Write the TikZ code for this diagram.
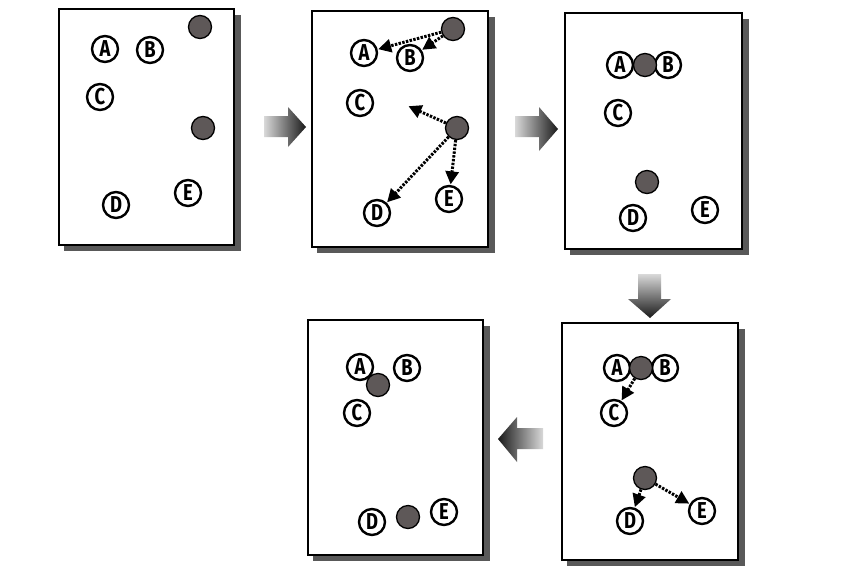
\documentclass[tikz,border=0pt]{standalone}
\usepackage{fontspec}
\setmainfont{Fira Sans}[FakeStretch=0.8]
\usetikzlibrary{arrows.meta}
\definecolor{dotfill}{HTML}{5E5858}
\newcommand{\lblfont}{\fontsize{23pt}{23pt}\selectfont\bfseries}
\tikzset{
  panel/.style={draw=black, line width=1.6pt, fill=white},
  pshadow/.style={fill=black!65, draw=none},
  lbl/.style={circle, draw=black, line width=2.4pt, fill=white, minimum size=26pt, inner sep=0pt,
              font=\lblfont},
  dot/.style={circle, draw=black, line width=1.3pt, fill=dotfill, minimum size=23pt, inner sep=0pt},
  darr/.style={line width=3pt, dash pattern=on 2.4pt off 1.4pt, shorten >=0.5pt,
               -{Triangle[length=13pt,width=13pt]}}
}
\begin{document}
\begin{tikzpicture}[x=1pt,y=-1pt]
\useasboundingbox (0,0) rectangle (853,576);
\fill[white] (0,0) rectangle (853,576);

% ---------- panel 1 ----------
\fill[pshadow] (64,15) rectangle (241,251);
\draw[panel] (59,9) rectangle (234,245);
\node[lbl] (a1) at (105,49) {A};
\node[lbl] (b1) at (150,50) {B};
\node[lbl] (c1) at (100,97) {C};
\node[lbl] (d1) at (116,205) {D};
\node[lbl] (e1) at (188,193) {E};
\node[dot] (p1) at (200,27) {};
\node[dot] (q1) at (203,128) {};

% ---------- panel 2 ----------
\fill[pshadow] (317,17) rectangle (495,253);
\draw[panel] (312,11) rectangle (488,247);
\node[lbl] (a2) at (364,53) {A};
\node[lbl] (b2) at (410,58) {B};
\node[lbl] (c2) at (360,103) {C};
\node[lbl] (d2) at (377,213) {D};
\node[lbl] (e2) at (449,199) {E};
\node[dot] (p2) at (453,29) {};
\node[dot] (q2) at (457,128) {};
\coordinate (m2) at (408,106);
\draw[darr] (p2) -- (a2);
\draw[darr] (p2) -- (b2);
\draw[darr] (q2) -- (m2);
\draw[darr] (q2) -- (d2);
\draw[darr] (q2) -- (e2);

% ---------- panel 3 ----------
\fill[pshadow] (570,19) rectangle (749,255);
\draw[panel] (565,13) rectangle (742,249);
\node[lbl] (a3) at (620,65) {A};
\node[lbl] (b3) at (668,65) {B};
\node[dot] (p3) at (645,65) {};
\node[lbl] (c3) at (618,113) {C};
\node[lbl] (d3) at (633,218) {D};
\node[lbl] (e3) at (705,210) {E};
\node[dot] (q3) at (647,182) {};

% ---------- panel 4 ----------
\fill[pshadow] (567,329) rectangle (745,566);
\draw[panel] (562,323) rectangle (738,560);
\node[lbl] (a4) at (617,368) {A};
\node[lbl] (b4) at (665,368) {B};
\node[dot] (p4) at (641,368) {};
\node[lbl] (c4) at (614,413) {C};
\node[lbl] (d4) at (630,521) {D};
\node[lbl] (e4) at (702,511) {E};
\node[dot] (q4) at (645,478) {};
\draw[darr] (p4) -- (c4);
\draw[darr] (q4) -- (d4);
\draw[darr] (q4) -- (e4);

% ---------- panel 5 ----------
\fill[pshadow] (313,326) rectangle (490,561);
\draw[panel] (308,320) rectangle (483,555);
\node[lbl] (a5) at (360,367) {A};
\node[lbl] (b5) at (407,368) {B};
\node[dot] (p5) at (378,385) {};
\node[lbl] (c5) at (357,413) {C};
\node[lbl] (d5) at (372,522) {D};
\node[lbl] (e5) at (444,512) {E};
\node[dot] (q5) at (408,517) {};

% ---------- big arrows ----------
\shade[left color=black!15, right color=black!90]
  (264,116) -- (288,116) -- (288,107) -- (306,127) -- (288,147) -- (288,137) -- (264,137) -- cycle;
\shade[left color=black!15, right color=black!90]
  (515,116) -- (539,116) -- (539,107) -- (558,129) -- (539,151) -- (539,137) -- (515,137) -- cycle;
\shade[top color=black!15, bottom color=black!90]
  (638,274) -- (661,274) -- (661,299) -- (671,299) -- (650,318) -- (628,299) -- (638,299) -- cycle;
\shade[left color=black!90, right color=black!15]
  (543,428) -- (517,428) -- (517,417) -- (498,439) -- (517,462) -- (517,449) -- (543,449) -- cycle;
\end{tikzpicture}
\end{document}
